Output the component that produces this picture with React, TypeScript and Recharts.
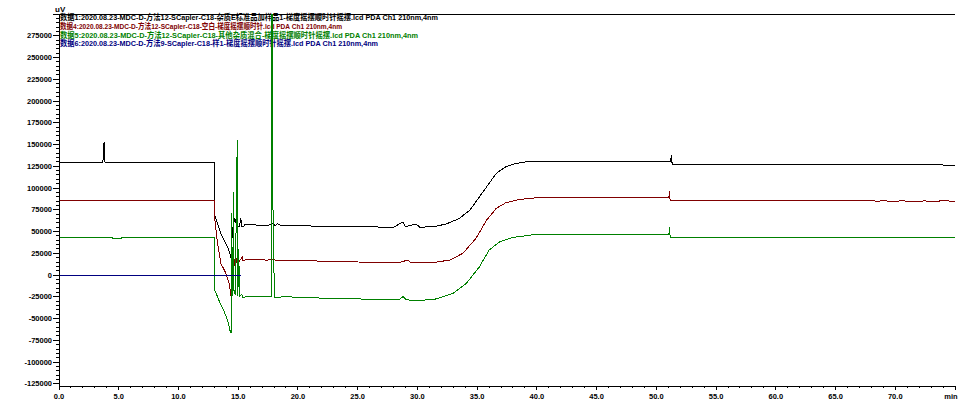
import React from 'react';
import { LineChart, Line, XAxis, YAxis, ReferenceLine } from 'recharts';

// ---- data (time in min, signal in uV) ----
const seriesNames = [
  '数据1:2020.08.23-MDC-D-方法12-SCapler-C18-杂质E标准品加样品1-梯度摇摆顺时针摇摆.lcd PDA Ch1 210nm,4nm',
  '数据4:2020.08.23-MDC-D-方法12-SCapler-C18-空白-梯度摇摆顺时针.lcd PDA Ch1 210nm,4nm',
  '数据5:2020.08.23-MDC-D-方法12-SCapler-C18-其他杂质混合-梯度摇摆顺时针摇摆.lcd PDA Ch1 210nm,4nm',
  '数据6:2020.08.23-MDC-D-方法9-SCapler-C18-样1-梯度摇摆顺时针摇摆.lcd PDA Ch1 210nm,4nm',
];
const seriesColors = ['#000000', '#800000', '#008000', '#000080'];

const blackPts: number[][] = [
  [0, 129500], [3.68, 129500], [3.72, 151000], [3.77, 151500], [3.8, 134000], [3.86, 129500],
  [12.98, 129500], [13.02, 69000], [13.27, 59400], [13.55, 47900], [13.83, 40200], [14.11, 32500],
  [14.3, 24900], [14.39, 19200], [14.45, 22000], [14.5, 55400], [14.58, 40000], [14.62, 60000],
  [14.68, 65000], [14.75, 60000], [14.82, 65000], [14.9, 55400], [15.1, 55400], [15.22, 66000],
  [15.28, 55400], [15.45, 56000], [15.6, 58500], [16.5, 57500], [17.5, 57000], [17.9, 59000],
  [18.1, 57000], [18.3, 59000], [18.6, 57000], [19.5, 57000], [22, 56000], [25, 55500], [28, 55000],
  [28.8, 61000], [29.0, 55500], [29.9, 58600], [30.2, 55000], [31.3, 55500], [32.4, 58600],
  [33.5, 65000], [34.4, 74700], [35.2, 90000], [35.8, 101500], [36.6, 116900], [37.4, 124500],
  [38.3, 128400], [39.4, 130700], [45, 130800], [51.2, 130800], [51.25, 138000], [51.3, 130000],
  [51.35, 127600], [60, 127200], [75, 126400],
];

const redPts: number[][] = [
  [0, 85800], [12.98, 85800], [13.02, 67000], [13.27, 36400], [13.55, 13400], [13.97, 2000],
  [14.25, -9500], [14.39, -24100], [14.45, 13400], [14.52, 5000], [14.58, 20000], [14.65, 10000],
  [14.72, 18000], [14.8, 21000], [14.88, 14000], [14.95, 17000], [15.1, 16000], [15.35, 21000],
  [15.4, 16500], [15.7, 18000], [16.5, 17500], [17.5, 17200], [17.9, 18500], [18.2, 16500],
  [19, 17000], [22, 16000], [25, 15000], [28.5, 14600], [29.2, 17200], [29.5, 14000], [31.3, 14300],
  [32.7, 17200], [33.8, 24900], [34.9, 42100], [35.8, 63200], [36.6, 76600], [37.4, 83100],
  [38.6, 87000], [40, 88900], [51.05, 89300], [51.1, 96900], [51.15, 86500], [51.2, 85800],
  [68, 85800], [68.5, 84600], [69, 85600], [69.8, 84300], [70.5, 85300], [71.5, 84600],
  [72.5, 85200], [73.2, 84400], [74, 85500], [75, 84700],
];

const greenPts: number[][] = [
  [0, 43300], [4.45, 43300], [4.5, 42000], [5.2, 42000], [5.25, 43300], [12.98, 43300],
  [13.02, -17200], [13.27, -24900], [13.55, -34500], [13.83, -42200], [14.11, -51700],
  [14.3, -63200], [14.4, -67000], [14.45, 71000], [14.5, 10000], [14.55, -24000], [14.6, 96000],
  [14.65, -20000], [14.75, -22000], [14.92, 155000], [14.97, -24000], [15.05, 30000],
  [15.1, -25000], [15.3, -22000], [15.4, -26000], [15.6, -25000], [17.78, -25000],
  [17.82, 340000], [17.88, 340000], [17.92, 25000], [17.98, 25000], [18.02, -25500],
  [19, -25000], [22, -26500], [25, -27500], [28.5, -27900], [28.8, -24900], [29.1, -28500],
  [30.1, -29400], [31.5, -27600], [33, -21000], [34.1, -9500], [35.2, 9600], [36, 28700],
  [36.9, 38300], [38, 43300], [39.7, 46300], [45, 46700], [51.05, 46700], [51.1, 54800],
  [51.15, 45000], [51.2, 43300], [75, 43300],
];

const navyPts: number[][] = [[0, 0], [15.2, 0]];

const allSeries = [blackPts, redPts, greenPts, navyPts];

const xTicks = Array.from({ length: 76 }, (_, i) => i);
const yTicks = Array.from({ length: 86 }, (_, i) => -125000 + i * 5000);
const yTop = 300000;

const toObjs = (pts: number[][]) => pts.map(([t, v]) => ({ t, v }));

const FONT = '"Liberation Sans", Arial, sans-serif';

const XTick = (props: any) => {
  const { x, y, payload } = props;
  const v = payload.value as number;
  const major = v % 5 === 0;
  return (
    <g>
      <line x1={x} x2={x} y1={y} y2={y + (major ? 4 : 2)} stroke="#000" />
      {major && (
        <text
          x={v === 75 ? x - 4 : x}
          y={y + 13}
          textAnchor="middle"
          fontSize={7.5}
          fontWeight="bold"
          fontFamily={FONT}
          fill="#000"
        >
          {v === 75 ? 'min' : v.toFixed(1)}
        </text>
      )}
    </g>
  );
};

const YTick = (props: any) => {
  const { x, y, payload } = props;
  const v = payload.value as number;
  const major = v % 25000 === 0;
  return (
    <g>
      <line x1={x - (major ? 6 : 3)} x2={x} y1={y} y2={y} stroke="#000" />
      {major && v !== yTop && (
        <text
          x={x - 7}
          y={y + 2.5}
          textAnchor="end"
          fontSize={7.5}
          fontWeight="bold"
          fontFamily={FONT}
          fill="#000"
        >
          {String(v)}
        </text>
      )}
    </g>
  );
};

const legendWidths = [378, 282, 358, 318];

export default function App() {
  return (
    <div style={{ position: 'absolute', left: 0, top: 0, width: 974, height: 402, background: '#fff' }}>
      <style>{`.recharts-surface line, .recharts-surface path { shape-rendering: crispEdges; }`}</style>
      <svg width={974} height={402} style={{ position: 'absolute', left: 0, top: 0 }}>
        <text x={55} y={12} fontSize={8} fontWeight="bold" fontFamily={FONT} fill="#000">uV</text>
        {seriesNames.map((n, i) => (
          <text
            key={i}
            x={60}
            y={20 + i * 8.8}
            fontSize={8}
            fontWeight="bold"
            fontFamily={'"Liberation Sans", "Noto Sans CJK SC", sans-serif'}
            fill={seriesColors[i]}
            textLength={legendWidths[i]}
            lengthAdjust="spacingAndGlyphs"
          >
            {n}
          </text>
        ))}
      </svg>
      <div style={{ position: 'absolute', left: 0, top: 0 }}>
        <LineChart width={974} height={402} margin={{ top: 14, right: 19, bottom: 0, left: 0 }}>
          <XAxis
            dataKey="t"
            type="number"
            domain={[0, 75]}
            ticks={xTicks}
            interval={0}
            tickSize={0}
            tickMargin={0}
            tickLine={false}
            tick={<XTick />}
            height={16}
            allowDataOverflow
            axisLine={{ stroke: '#000' }}
          />
          <YAxis
            type="number"
            domain={[-127500, yTop]}
            ticks={yTicks}
            interval={0}
            tickSize={0}
            tickMargin={0}
            tickLine={false}
            tick={<YTick />}
            width={59}
            allowDataOverflow
            axisLine={{ stroke: '#000' }}
          />
          <ReferenceLine y={yTop} stroke="#000" strokeWidth={1} ifOverflow="visible" />
          {allSeries.map((pts, i) => (
            <Line
              key={i}
              data={toObjs(pts)}
              dataKey="v"
              type="linear"
              stroke={seriesColors[i]}
              strokeWidth={1}
              dot={false}
              activeDot={false}
              isAnimationActive={false}
            />
          ))}
        </LineChart>
      </div>
    </div>
  );
}
